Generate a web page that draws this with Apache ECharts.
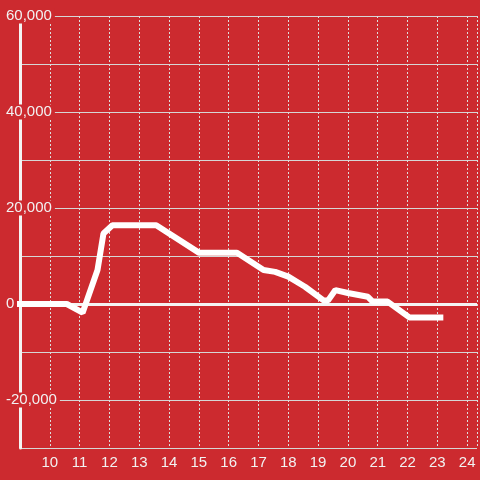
<!DOCTYPE html>
<html>
<head>
<meta charset="utf-8">
<script src="https://cdn.jsdelivr.net/npm/echarts@6/dist/echarts.min.js"></script>
<style>
  html, body { margin: 0; padding: 0; background: #cc2a2f; }
  #chart { width: 480px; height: 480px; }
</style>
</head>
<body>
<div id="chart"></div>
<script>
// hour of day
var hours = [9.0, 10.57, 11.1, 11.6, 11.8, 12.1, 13.57, 15.0, 16.28, 17.17, 17.56, 18.0,
             18.56, 19.17, 19.33, 19.58, 20.0, 20.67, 20.83, 21.33, 22.06, 23.1];
var values = [0, 0, -1800, 7100, 14700, 16400, 16400, 10700, 10700, 7100, 6700, 5700,
              3600, 800, 700, 2900, 2300, 1500, 500, 500, -2800, -2800];
var xTicks = [10, 11, 12, 13, 14, 15, 16, 17, 18, 19, 20, 21, 22, 23, 24];
var yLabels = [-20000, 0, 20000, 40000, 60000];

var bg = "#cc2a2f";
var chart = echarts.init(document.getElementById("chart"));

var points = [];
for (var i = 0; i < hours.length; i++) {
  points.push([hours[i], values[i]]);
}

chart.setOption({
  backgroundColor: bg,
  animation: false,
  grid: { left: 20, right: 0, top: 16, bottom: 32 },
  xAxis: {
    type: "value",
    min: 9,
    max: 24.33,
    interval: 1,
    axisLine: { show: false },
    axisTick: { show: false },
    axisLabel: {
      color: "#f2f2f2",
      fontSize: 15,
      fontFamily: "Liberation Sans",
      margin: 7,
      formatter: function (v) {
        return xTicks.indexOf(v) >= 0 ? String(v) : "";
      },
    },
    splitLine: {
      show: true,
      lineStyle: { color: "#dddddd", width: 1, type: [2, 2] },
    },
  },
  yAxis: {
    type: "value",
    min: -30000,
    max: 60000,
    interval: 10000,
    axisLine: { show: true, lineStyle: { color: "#f4f4f4", width: 3 } },
    axisTick: { show: false },
    axisLabel: {
      color: "#f2f2f2",
      fontSize: 15,
      fontFamily: "Liberation Sans",
      align: "left",
      margin: 14,
      backgroundColor: bg,
      padding: [0, 3, 0, 0],
      formatter: function (v) {
        if (yLabels.indexOf(v) < 0) return "";
        return v.toLocaleString("en-US");
      },
    },
    splitLine: {
      show: true,
      lineStyle: { color: "#d6d6d6", width: 1 },
    },
  },
  series: [
    {
      type: "line",
      data: points,
      symbol: "none",
      clip: false,
      lineStyle: { color: "#ffffff", width: 6, cap: "square" },
      markLine: {
        silent: true,
        symbol: "none",
        label: { show: false },
        lineStyle: { color: "#f4f4f4", width: 3, type: "solid" },
        data: [{ yAxis: 0 }],
        z: 1,
      },
    },
  ],
});
</script>
</body>
</html>
